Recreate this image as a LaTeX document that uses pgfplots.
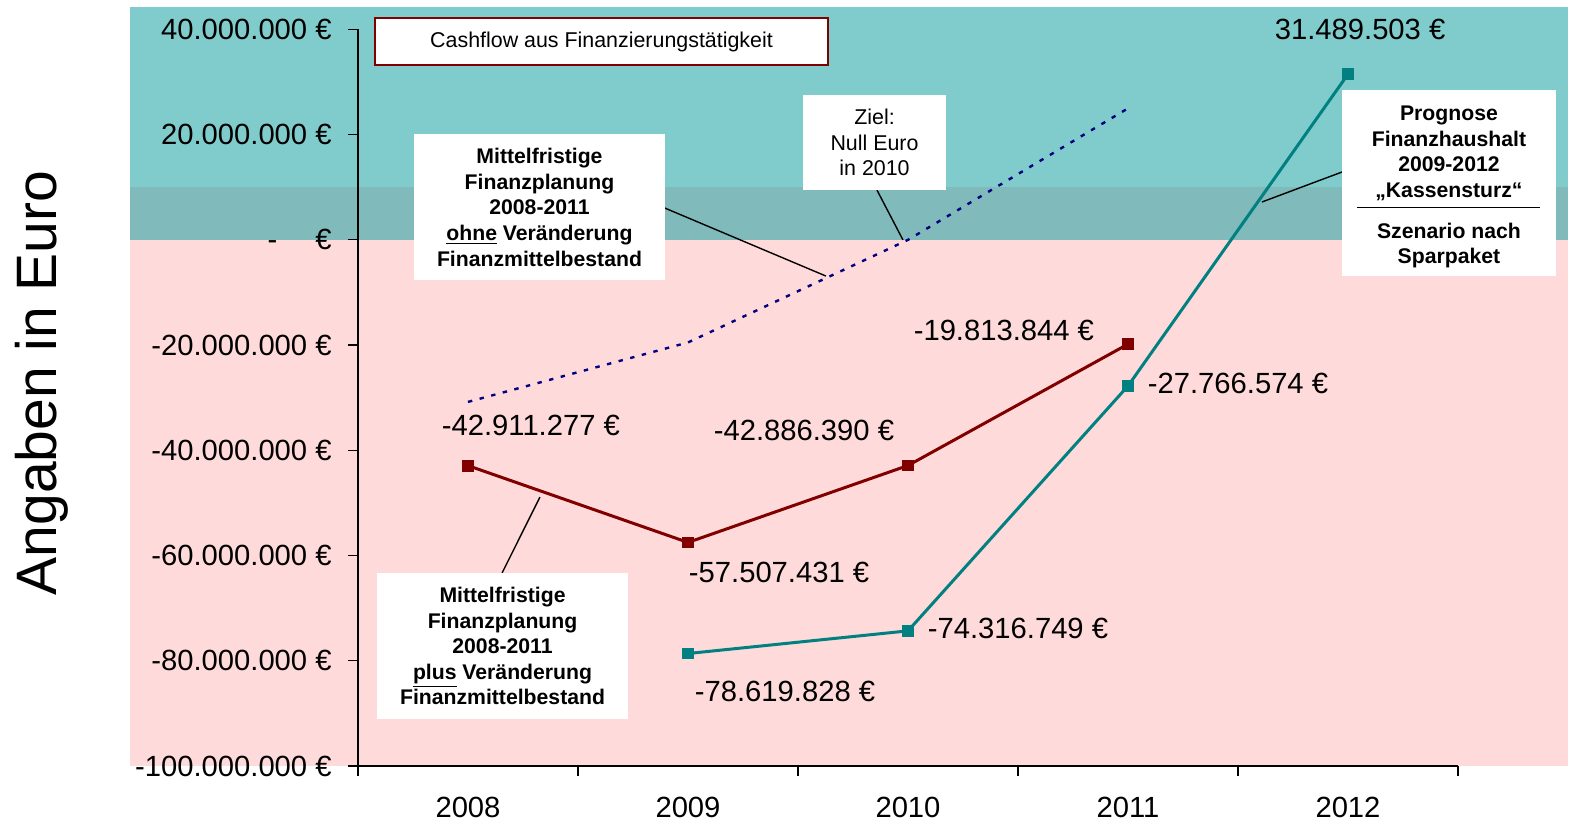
\documentclass[border=0pt]{standalone}
\usepackage{pgfplots}
\pgfplotsset{compat=1.18}
\usepackage{fontspec}
\setmainfont{Liberation Sans}
\definecolor{bgteal}{RGB}{128,204,204}
\definecolor{bgdark}{RGB}{128,186,186}
\definecolor{bgpink}{RGB}{255,218,218}
\definecolor{lred}{RGB}{128,0,0}
\definecolor{lteal}{RGB}{0,128,128}
\definecolor{lnavy}{RGB}{0,0,128}
\newcommand\lab{\fontsize{14.6}{17}\selectfont}
\newcommand\boxb{\bfseries\fontsize{10.6}{12.8}\selectfont}
\newcommand\boxr{\fontsize{10.7}{12.7}\selectfont}
\begin{document}
\begin{tikzpicture}
\useasboundingbox (-179pt,-27.5pt) rectangle (606.5pt,383pt);
\begin{axis}[
  at={(0,0)}, anchor=south west,
  scale only axis, width=550pt, height=368.3pt,
  xmin=-0.5, xmax=4.5, ymin=-100000000, ymax=40000000,
  clip=false, axis on top,
  axis x line*=bottom, axis y line*=left,
  tick align=outside, major tick length=5pt,
  xtick={-0.5,0.5,1.5,2.5,3.5,4.5},
  xticklabels={2008,2009,2010,2011,2012,{}},
  xticklabel style={anchor=north, inner sep=0pt, xshift=55pt, yshift=-10.5pt, font=\lab},
  ytick={-100000000,-80000000,-60000000,-40000000,-20000000,0,20000000,40000000},
  yticklabels={-100.000.000 €,-80.000.000 €,-60.000.000 €,-40.000.000 €,-20.000.000 €,{-\hspace{19pt}€},20.000.000 €,40.000.000 €},
  yticklabel style={anchor=east, inner sep=0pt, xshift=-8pt, font=\lab},
  scaled y ticks=false,
  axis line style={black, line width=0.6pt},
  tick style={black, line width=0.6pt},
]
% backgrounds
\fill[bgteal] (axis cs:-1.536,10000000) rectangle (axis cs:5.0,44200000);
\fill[bgdark] (axis cs:-1.536,0) rectangle (axis cs:5.0,10000000);
\fill[bgpink] (axis cs:-1.536,-100000000) rectangle (axis cs:5.0,0);

% series
\addplot[lnavy, line width=1.2pt, dash pattern=on 2.2pt off 3.8pt] coordinates {(0,-30800000)(1,-19500000)(2,0)(3,25000000)};
\addplot[lred, line width=1.5pt, mark=square*, mark size=2.2pt, mark options={solid}] coordinates {(0,-42911277)(1,-57507431)(2,-42886390)(3,-19813844)};
\addplot[lteal, line width=1.5pt, mark=square*, mark size=2.2pt, mark options={solid}] coordinates {(1,-78619828)(2,-74316749)(3,-27766574)(4,31489503)};

% data labels
\node[font=\lab] at (axis cs:0.286,-35200000) {-42.911.277 €};
\node[font=\lab] at (axis cs:1.414,-63300000) {-57.507.431 €};
\node[font=\lab] at (axis cs:1.527,-36150000) {-42.886.390 €};
\node[font=\lab] at (axis cs:2.436,-17140000) {-19.813.844 €};
\node[font=\lab] at (axis cs:1.441,-85900000) {-78.619.828 €};
\node[font=\lab] at (axis cs:2.5,-73800000) {-74.316.749 €};
\node[font=\lab] at (axis cs:3.5,-27200000) {-27.766.574 €};
\node[font=\lab] at (axis cs:4.055,39900000) {31.489.503 €};

% leader lines
\draw[black, line width=0.7pt] (axis cs:0.895,6040000) -- (axis cs:1.627,-6880000);
\draw[black, line width=0.7pt] (axis cs:1.859,9460000) -- (axis cs:1.977,0);
\draw[black, line width=0.7pt] (axis cs:0.155,-63300000) -- (axis cs:0.327,-48900000);
\draw[black, line width=0.7pt] (axis cs:3.973,12900000) -- (axis cs:3.609,7200000);

% boxes
\node[fill=white, draw=lred, line width=1pt, minimum width=226.5pt, minimum height=23.5pt, inner sep=0pt, font=\boxr] at (axis cs:0.607,37700000) {Cashflow aus Finanzierungstätigkeit};
\node[fill=white, minimum width=125.5pt, minimum height=73pt, inner sep=0pt, align=center, font=\boxb] at (axis cs:0.325,6200000) {Mittelfristige\\Finanzplanung\\2008-2011\\\underline{ohne} Veränderung\\Finanzmittelbestand};
\node[fill=white, minimum width=71.5pt, minimum height=47.5pt, inner sep=0pt, align=center, font=\boxr] at (axis cs:1.848,18500000) {Ziel:\\Null Euro\\in 2010};
\node[fill=white, minimum width=125.5pt, minimum height=73pt, inner sep=0pt, align=center, font=\boxb] at (axis cs:0.157,-77200000) {Mittelfristige\\Finanzplanung\\2008-2011\\\underline{plus} Veränderung\\Finanzmittelbestand};
\node[fill=white, minimum width=107pt, minimum height=93pt, inner sep=0pt] at (axis cs:4.459,10800000) {};
\node[inner sep=0pt, align=center, font=\boxb] at (axis cs:4.459,10050000) {Prognose\\Finanzhaushalt\\2009-2012\\„Kassensturz“\\[-7.4pt]\rule{91.5pt}{0.7pt}\\[2.2pt]Szenario nach\\Sparpaket};

% y label
\node[rotate=90, font=\fontsize{28.5}{33}\selectfont] at (axis cs:-1.936,-27200000) {Angaben in Euro};
\end{axis}
\end{tikzpicture}
\end{document}
